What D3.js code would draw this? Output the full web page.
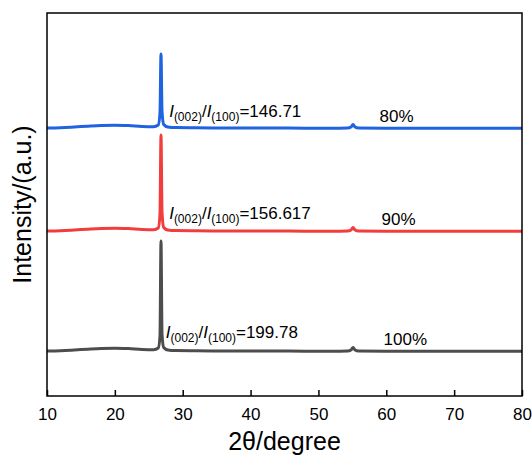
<!DOCTYPE html>
<html>
<head>
<meta charset="utf-8">
<script src="https://cdn.jsdelivr.net/npm/d3@7"></script>
<style>
  body { margin: 0; background: #fff; }
  text { font-family: Arial, "Liberation Sans", sans-serif; fill: #000; }
</style>
</head>
<body>
<div id="chart"></div>
<script>
'use strict';

// 2theta sample positions (degrees)
var angles = [10, 12, 14, 16, 18, 20, 22, 24, 25.7, 26.4, 26.65, 26.8, 26.95, 27.2, 27.8, 29, 32, 36, 40, 44, 48, 52, 54.3, 54.8, 55.1, 55.4, 55.9, 60, 65, 70, 75, 80];

// intensities (a.u., curves already offset)
var int100 = [45, 45.3, 46, 46.8, 47.5, 47.8, 47.4, 46.6, 46.3, 48, 60, 155, 62, 48.5, 46, 45.4, 45.2, 45, 45, 45, 44.8, 44.8, 45, 46, 48.5, 46, 45, 44.8, 44.8, 44.8, 44.8, 44.8];
var int90  = [165, 165.3, 166, 166.8, 167.5, 167.8, 167.4, 166.6, 166.3, 168, 182, 261, 184, 168.5, 166, 165.4, 165.2, 165, 165, 165, 164.8, 164.8, 165, 166, 168.5, 166, 165, 164.8, 164.8, 164.8, 164.8, 164.8];
var int80  = [268, 268.3, 269, 269.8, 270.5, 270.8, 270.4, 269.6, 269.3, 271, 283, 342, 285, 271.5, 269, 268.4, 268.2, 268, 268, 268, 267.8, 267.8, 268, 269, 271.5, 269, 268, 267.8, 267.8, 267.8, 267.8, 267.8];

var seriesNames = ["100%", "90%", "80%"];
var ratios = ["199.78", "156.617", "146.71"];
var colors = ["#4d4d4d", "#f23d3d", "#1f63e0"];
var xTicks = [10, 20, 30, 40, 50, 60, 70, 80];

var series = [int100, int90, int80];

var W = 532, H = 460;
var margin = {top: 13, right: 10, bottom: 64, left: 47},
  width = W - margin.left - margin.right,
  height = H - margin.top - margin.bottom;

var svg = d3.select("#chart").append("svg")
  .attr("width", W)
  .attr("height", H);

var g = svg.append("g")
  .attr("transform", "translate(" + margin.left + "," + margin.top + ")");

var x = d3.scaleLinear().domain([10, 80]).range([0, width]),
  y = d3.scaleLinear().domain([0, 383]).range([height, 0]);

var line = d3.line()
  .x((d, i) => x(angles[i]))
  .y((d) => y(d))
  .curve(d3.curveMonotoneX);

// curves
g.selectAll("path.curve")
  .data(series)
  .enter()
  .append("path")
  .attr("class", "curve")
  .attr("d", (d) => line(d))
  .attr("fill", "none")
  .attr("stroke", (d, i) => colors[i])
  .attr("stroke-width", 3)
  .attr("stroke-linejoin", "round");

// ratio labels
var labelPos = [{x: 27.5, dy: 13}, {x: 28.0, dy: 12}, {x: 28.0, dy: 11}];
series.forEach(function(s, i){
  var t = g.append("text")
    .attr("x", x(labelPos[i].x))
    .attr("y", y(s[0]) - labelPos[i].dy)
    .style("font-size", "17px");
  t.append("tspan").style("font-style", "italic").text("I");
  t.append("tspan").attr("dy", 4).style("font-size", "12px").text("(002)");
  t.append("tspan").attr("dy", -4).text("/");
  t.append("tspan").style("font-style", "italic").text("I");
  t.append("tspan").attr("dy", 4).style("font-size", "12px").text("(100)");
  t.append("tspan").attr("dy", -4).text("=" + ratios[i]);
});

// percent labels
var pctX = [59.6, 59.3, 59.0];
seriesNames.forEach(function(n, i){
  g.append("text")
    .attr("x", x(pctX[i]))
    .attr("y", y(series[i][0]) - 6)
    .style("font-size", "17px")
    .text(n);
});

// frame
g.append("rect")
  .attr("width", width)
  .attr("height", height)
  .attr("fill", "none")
  .attr("stroke", "#000")
  .attr("stroke-width", 1.5);

// x axis, ticks inward
var xAxis = g.append("g")
  .attr("transform", "translate(0," + height + ")")
  .call(d3.axisBottom(x).tickValues(xTicks).tickSizeInner(-6).tickSizeOuter(0).tickPadding(12));
xAxis.select(".domain").remove();
xAxis.selectAll("line").attr("stroke", "#000").attr("stroke-width", 1.5);
xAxis.selectAll("text")
  .style("font-size", "17px")
  .style("font-family", "Arial, 'Liberation Sans', sans-serif")
  .attr("fill", "#000");

// axis titles
svg.append("text")
  .attr("x", margin.left + width / 2)
  .attr("y", 450)
  .attr("text-anchor", "middle")
  .style("font-size", "25px")
  .text("2θ/degree");

svg.append("text")
  .attr("transform", "translate(31," + (margin.top + height / 2) + ") rotate(-90)")
  .attr("text-anchor", "middle")
  .style("font-size", "25px")
  .text("Intensity/(a.u.)");
</script>
</body>
</html>
